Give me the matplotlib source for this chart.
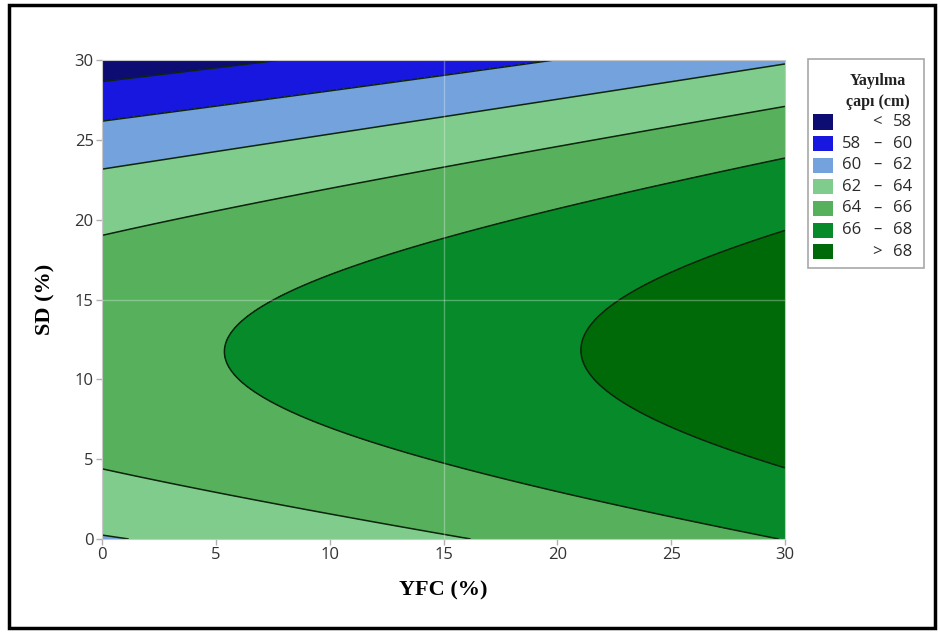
import numpy as np
import matplotlib
matplotlib.use("Agg")
import matplotlib.pyplot as plt
from matplotlib.patches import Rectangle

# fitted response surface for spread diameter (cm), x = YFC (%), y = SD (%)
coef_names = ["const", "YFC", "SD", "YFC^2", "SD^2", "YFC*SD", "YFC*SD^2"]
coef_vals = [61.8534, 0.12429, 0.601054, 0.000510769, -0.0256741, -0.00200414, 9.76055e-05]

levels = [58, 60, 62, 64, 66, 68]
band_colors = ["#0c0c72", "#1717e0", "#74a2dc", "#80cc8c", "#56b05c", "#068a2a", "#006a08"]
band_labels = [("", "<", "58"), ("58", "\u2013", "60"), ("60", "\u2013", "62"),
               ("62", "\u2013", "64"), ("64", "\u2013", "66"), ("66", "\u2013", "68"),
               ("", ">", "68")]
ticks = [0, 5, 10, 15, 20, 25, 30]

xs = np.linspace(0, 30, 301)
ys = np.linspace(0, 30, 301)
X, Y = np.meshgrid(xs, ys)
c = coef_vals
Z = (c[0] + c[1]*X + c[2]*Y + c[3]*X**2 + c[4]*Y**2 + c[5]*X*Y
     + c[6]*X*Y**2)

fig = plt.figure(figsize=(9.4, 6.33), dpi=100)
ax = fig.add_axes([102/940, 94/633, 683/940, 479/633])

bounds = [Z.min() - 1] + levels + [Z.max() + 1]
ax.contourf(X, Y, Z, levels=bounds, colors=band_colors)
ax.contour(X, Y, Z, levels=levels, colors="#0d240d", linewidths=1.1)

# faint reference lines
ax.axhline(15, color="white", alpha=0.3, lw=1)
ax.axvline(15, color="white", alpha=0.3, lw=1)

ax.set_xlim(0, 30)
ax.set_ylim(0, 30)
ax.set_xticks(ticks)
ax.set_yticks(ticks)
ax.tick_params(length=4, width=1, color="#b0b0b0", labelsize=12, labelcolor="#333333", pad=2)
for lab in ax.get_xticklabels() + ax.get_yticklabels():
    lab.set_family("Open Sans")
for sp in ax.spines.values():
    sp.set_color("#c8c8c8")

ax.set_xlabel("YFC (%)", family="Liberation Serif", weight="bold", fontsize=16, labelpad=12)
ax.set_ylabel("SD (%)", family="Liberation Serif", weight="bold", fontsize=16, labelpad=14)

# legend drawn by hand
def fx(px):
    return px / 940

def fy(py):
    return 1 - py / 633

fig.add_artist(Rectangle((fx(808), fy(268)), fx(924) - fx(808), fy(59) - fy(268),
                         transform=fig.transFigure, fill=False, ec="#a8a8a8", lw=1.2))
fig.text(fx(878), fy(81), "Yayılma", ha="center", va="center",
         family="Liberation Serif", weight="bold", fontsize=11.5, color="#222222")
fig.text(fx(878), fy(102), "çapı (cm)", ha="center", va="center",
         family="Liberation Serif", weight="bold", fontsize=11.5, color="#222222")
for i, (col, (lo, sign, hi)) in enumerate(zip(band_colors, band_labels)):
    cy = 122 + i * 21.6
    fig.add_artist(Rectangle((fx(813), fy(cy + 7.5)), fx(20), 15 / 633,
                             transform=fig.transFigure, fc=col, ec="none"))
    kw = dict(va="center", family="Open Sans", fontsize=12, color="#2a2a2a")
    if lo:
        fig.text(fx(842), fy(cy), lo, ha="left", **kw)
    fig.text(fx(877), fy(cy), sign, ha="center", **kw)
    fig.text(fx(912), fy(cy), hi, ha="right", **kw)

# outer frame
fig.add_artist(Rectangle((fx(9), fy(628)), fx(926), 623 / 633,
                         transform=fig.transFigure, fill=False, ec="black", lw=2.5))

fig.savefig("out.png", dpi=100)
